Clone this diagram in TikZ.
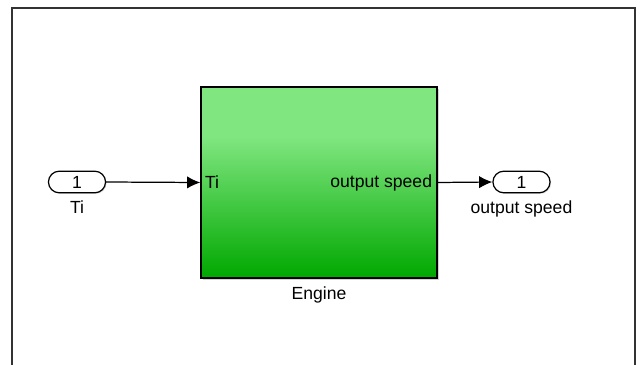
\documentclass[tikz,border=0pt]{standalone}
\usepackage{fontspec}
\setmainfont{Liberation Sans}
\usetikzlibrary{positioning,shapes.misc,arrows.meta,shadows}

\definecolor{blocktop}{RGB}{128,230,128}
\definecolor{blockbot}{RGB}{0,168,0}
\pgfdeclareverticalshading{enginefill}{100bp}{color(0bp)=(blockbot); color(25bp)=(blockbot);
  color(62bp)=(blocktop); color(100bp)=(blocktop)}

\tikzset{
  port/.style={draw,line width=0.7pt,rounded rectangle,minimum width=32.5pt,minimum height=12.3pt,
    inner sep=0pt,fill=white,drop shadow={shadow xshift=0.6pt,shadow yshift=-0.6pt,opacity=0.3}},
  block/.style={draw,line width=1.1pt,minimum width=134pt,minimum height=108.5pt,inner sep=0pt,
    shading=enginefill,drop shadow={shadow xshift=1.2pt,shadow yshift=-1.2pt,opacity=0.35}},
  wire/.style={line width=0.7pt,-{Latex[length=7.5pt,width=7pt]}},
  txt/.style={inner sep=1pt,font=\fontsize{10}{12}\selectfont}
}

\begin{document}
\begin{tikzpicture}[x=0.02cm,y=-0.02cm]
\useasboundingbox (0,0) rectangle (640,365);

% frame
\draw[line width=0.9pt,black!80] (12,365) |- (635,8) -- (635,365);

% blocks
\node[port] (inTi) at (77,182) {\fontsize{10}{12}\selectfont 1};
\node[block] (engine) at (319,182.5) {};
\node[port] (outSpeed) at (521.5,182) {\fontsize{10}{12}\selectfont 1};

% labels
\node[txt] (inTiName) [below=3pt of inTi] {Ti};
\node[txt] (outSpeedName) [below=3pt of outSpeed] {output speed};
\node[txt] (engineName) [below=3.5pt of engine] {Engine};
\node[txt,anchor=west] (engineIn) at ([xshift=1.5pt]engine.west) {Ti};
\node[txt,anchor=east] (engineOut) at ([xshift=-2pt]engine.east) {output speed};

% signals
\draw[wire] (inTi.east) -- (engine.west);
\draw[wire] (engine.east) -- (outSpeed.west);
\end{tikzpicture}
\end{document}
